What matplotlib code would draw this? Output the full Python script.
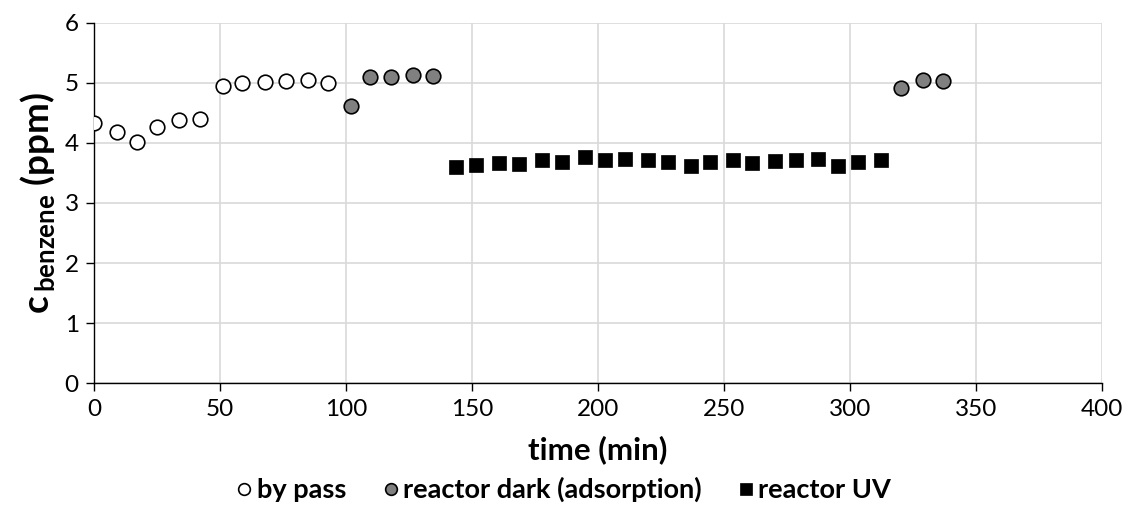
import matplotlib
matplotlib.use("Agg")
from matplotlib import pyplot as plt

# by pass (open circles)
bypass_t = [0, 9.0, 17.1, 25.0, 33.9, 42.0, 51.1, 58.9, 67.9, 76.0, 85.0, 92.7]
bypass_c = [4.33, 4.18, 4.01, 4.26, 4.38, 4.40, 4.95, 4.99, 5.02, 5.03, 5.04, 4.99]

# reactor dark (adsorption)
dark_t = [101.8, 109.7, 117.7, 126.6, 134.5, 320.4, 329.1, 337.1]
dark_c = [4.62, 5.10, 5.09, 5.13, 5.11, 4.92, 5.04, 5.03]

# reactor UV
uv_t = [143.7, 151.7, 160.7, 168.7, 177.7, 185.6, 194.7, 202.7, 210.8, 219.8,
        227.8, 236.9, 244.4, 253.4, 261.2, 270.3, 278.4, 287.2, 295.2, 303.3, 312.3]
uv_c = [3.60, 3.64, 3.67, 3.65, 3.71, 3.68, 3.76, 3.71, 3.73, 3.72,
        3.69, 3.62, 3.69, 3.71, 3.66, 3.70, 3.71, 3.73, 3.61, 3.69, 3.72]

x_ticks = [0, 50, 100, 150, 200, 250, 300, 350, 400]
y_ticks = [0, 1, 2, 3, 4, 5, 6]

plt.rcParams["font.family"] = ["Lato", "DejaVu Sans"]
plt.rcParams["mathtext.fontset"] = "custom"
plt.rcParams["mathtext.rm"] = "Lato"
plt.rcParams["mathtext.bf"] = "Lato:bold"

fig = plt.figure(figsize=(11.29, 5.09), dpi=100)
ax = fig.add_axes([0.0833, 0.247, 0.8927, 0.7084])

ax.plot(bypass_t, bypass_c, "o", ms=10.5, mfc="white", mec="black", mew=1.2,
        label="by pass", zorder=3)
ax.plot(dark_t, dark_c, "o", ms=10.5, mfc="#808080", mec="black", mew=1.2,
        label="reactor dark (adsorption)", zorder=3)
ax.plot(uv_t, uv_c, "s", ms=10, mfc="black", mec="black", mew=0.5,
        label="reactor UV", zorder=3)

ax.set_xlim(0, 400)
ax.set_ylim(0, 6)
ax.set_xticks(x_ticks)
ax.set_yticks(y_ticks)
ax.grid(True, color="#d9d9d9", lw=1.2)
ax.set_axisbelow(True)
for side in ["top", "right"]:
    ax.spines[side].set_visible(False)
for side in ["left", "bottom"]:
    ax.spines[side].set_color("black")
    ax.spines[side].set_linewidth(1.0)
ax.tick_params(direction="out", length=6, width=1, labelsize=17.5, pad=5)

ax.set_xlabel("time (min)", fontsize=22.5, fontweight="bold", labelpad=11)
ax.set_ylabel(r"$\mathbf{c}_{\,\mathbf{benzene}}$ (ppm)", fontsize=26.5,
              fontweight="bold", labelpad=5)

leg = fig.legend(loc="lower center", bbox_to_anchor=(0.5, -0.035), ncol=3,
                 frameon=False, prop={"weight": "bold", "size": 19.5},
                 markerscale=0.8, handlelength=0.5, handletextpad=0.2,
                 columnspacing=1.4)

fig.savefig("out.png", dpi=100)
